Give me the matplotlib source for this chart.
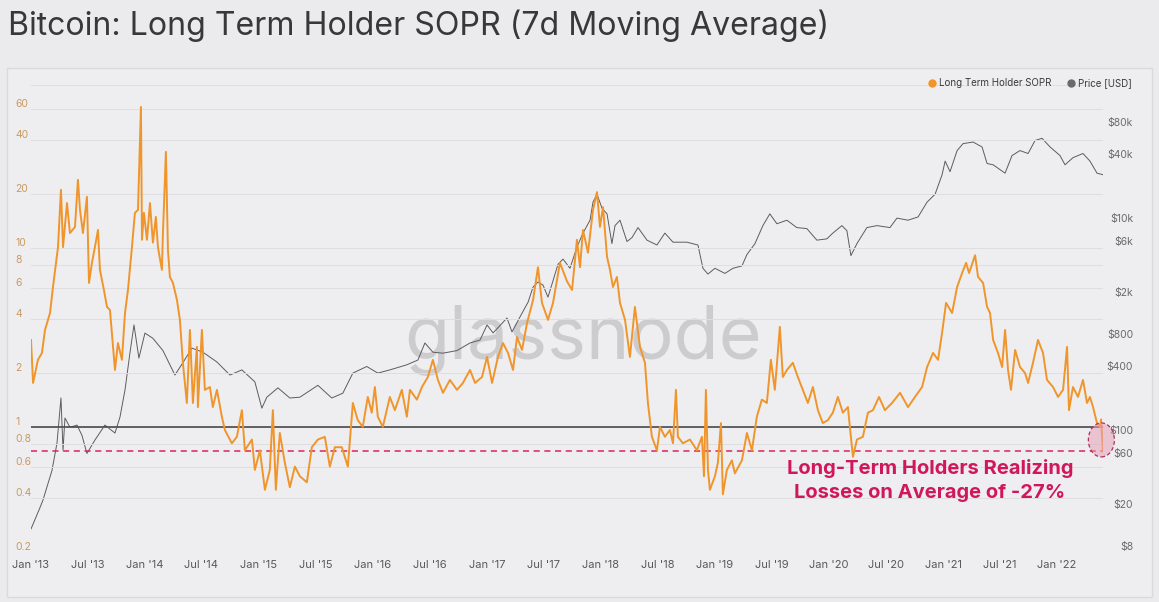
import matplotlib
matplotlib.use("Agg")
import matplotlib.pyplot as plt
import matplotlib.dates as mdates
from matplotlib.patches import Ellipse, FancyBboxPatch
from matplotlib.lines import Line2D
import pandas as pd
import numpy as np

plt.rcParams['font.family'] = ['Inter', 'DejaVu Sans']

# ---------------- data ----------------
# dates as decimal years
sopr_t = [2013.000, 2013.018, 2013.061, 2013.096, 2013.123, 2013.167, 2013.193, 2013.237, 2013.263, 2013.281,
          2013.316, 2013.342, 2013.386, 2013.412, 2013.430, 2013.456, 2013.491, 2013.509, 2013.535, 2013.561,
          2013.588, 2013.605, 2013.640, 2013.667, 2013.693, 2013.737, 2013.763, 2013.798, 2013.825, 2013.851,
          2013.886, 2013.912, 2013.939, 2013.965, 2013.974, 2013.991, 2014.018, 2014.044, 2014.070, 2014.096,
          2014.114, 2014.149, 2014.158, 2014.184, 2014.202, 2014.219, 2014.246, 2014.281, 2014.307, 2014.333,
          2014.368, 2014.395, 2014.421, 2014.456, 2014.465, 2014.500, 2014.526, 2014.570, 2014.596, 2014.632,
          2014.675, 2014.702, 2014.763, 2014.807, 2014.851, 2014.877, 2014.939, 2014.965, 2015.009, 2015.053,
          2015.096, 2015.123, 2015.149, 2015.184, 2015.228, 2015.272, 2015.316, 2015.360, 2015.421, 2015.465,
          2015.518, 2015.579, 2015.623, 2015.667, 2015.728, 2015.781, 2015.825, 2015.868, 2015.912, 2015.956,
          2015.991, 2016.018, 2016.044, 2016.088, 2016.149, 2016.193, 2016.254, 2016.298, 2016.325, 2016.386,
          2016.430, 2016.482, 2016.526, 2016.570, 2016.614, 2016.675, 2016.737, 2016.789, 2016.851, 2016.895,
          2016.956, 2017.000, 2017.044, 2017.096, 2017.140, 2017.184, 2017.228, 2017.263, 2017.307, 2017.351,
          2017.404, 2017.447, 2017.482, 2017.535, 2017.579, 2017.640, 2017.702, 2017.746, 2017.789, 2017.816,
          2017.842, 2017.886, 2017.930, 2017.965, 2017.991, 2018.018, 2018.053, 2018.079, 2018.105, 2018.140,
          2018.167, 2018.211, 2018.254, 2018.298, 2018.342, 2018.386, 2018.412, 2018.447, 2018.491, 2018.518,
          2018.561, 2018.605, 2018.632, 2018.658, 2018.675, 2018.719, 2018.781, 2018.842, 2018.886, 2018.904,
          2018.921, 2018.939, 2018.956, 2019.000, 2019.026, 2019.053, 2019.070, 2019.105, 2019.149, 2019.175,
          2019.237, 2019.281, 2019.325, 2019.368, 2019.412, 2019.456, 2019.491, 2019.526, 2019.570, 2019.596,
          2019.632, 2019.684, 2019.728, 2019.772, 2019.816, 2019.860, 2019.904, 2019.947, 2019.991, 2020.035,
          2020.079, 2020.123, 2020.167, 2020.184, 2020.211, 2020.246, 2020.298, 2020.342, 2020.386, 2020.439,
          2020.491, 2020.553, 2020.623, 2020.693, 2020.754, 2020.816, 2020.860, 2020.912, 2020.956, 2020.991,
          2021.026, 2021.079, 2021.123, 2021.167, 2021.202, 2021.228, 2021.281, 2021.307, 2021.351, 2021.386,
          2021.412, 2021.439, 2021.482, 2021.518, 2021.544, 2021.570, 2021.596, 2021.632, 2021.675, 2021.719,
          2021.746, 2021.789, 2021.833, 2021.877, 2021.912, 2021.965, 2022.009, 2022.053, 2022.088, 2022.105,
          2022.140, 2022.184, 2022.228, 2022.263, 2022.289, 2022.316, 2022.351, 2022.377, 2022.386, 2022.404]
sopr_v = [3.06, 1.76, 2.37, 2.59, 3.48, 4.33, 6.05, 10.1, 21.1, 10.1,
          17.8, 12.1, 13.1, 24.0, 16.3, 12.1, 19.3, 6.37, 8.25, 10.1,
          12.6, 7.54, 5.82, 4.68, 4.5, 2.08, 2.94, 2.37, 4.33, 5.82,
          10.1, 15.7, 16.3, 61.3, 11.1, 15.7, 11.1, 17.8, 10.7, 14.9,
          10.1, 7.54, 12.1, 34.4, 9.73, 6.88, 6.37, 5.12, 3.96, 2.28,
          1.36, 3.48, 1.36, 2.80, 1.29, 3.48, 1.61, 1.67, 1.29, 1.61,
          1.14, 0.96, 0.81, 0.88, 1.24, 0.74, 0.85, 0.575, 0.74, 0.445,
          0.575, 1.24, 0.445, 0.925, 0.63, 0.46, 0.60, 0.53, 0.49, 0.77,
          0.85, 0.88, 0.60, 0.77, 0.77, 0.60, 1.36, 1.09, 1.0, 1.47,
          1.2, 1.67, 1.14, 1.0, 1.47, 1.24, 1.61, 1.14, 1.61, 1.42,
          1.67, 1.90, 2.37, 1.83, 1.55, 1.83, 1.61, 1.76, 2.08, 1.76,
          1.90, 2.46, 1.76, 2.46, 2.94, 2.59, 2.08, 3.18, 2.69, 3.81,
          5.12, 7.8, 4.93, 3.96, 4.93, 8.25, 6.5, 5.82, 11.1, 7.8,
          12.6, 9.4, 16.3, 20.5, 13.1, 16.9, 8.92, 7.54, 6.05, 6.88,
          4.93, 3.96, 2.46, 4.68, 2.80, 2.28, 1.36, 0.88, 0.74, 1.0,
          0.88, 0.96, 0.81, 1.61, 0.88, 0.81, 0.85, 0.74, 0.88, 0.53,
          1.61, 0.575, 0.445, 0.53, 0.63, 1.05, 0.42, 0.575, 0.65, 0.55,
          0.65, 0.925, 0.74, 1.14, 1.42, 1.36, 2.37, 1.61, 3.62, 1.90,
          2.08, 2.28, 1.90, 1.61, 1.36, 1.67, 1.24, 1.05, 1.09, 1.2,
          1.47, 1.2, 1.29, 1.0, 0.68, 0.85, 0.88, 1.2, 1.24, 1.47,
          1.24, 1.36, 1.55, 1.29, 1.47, 1.67, 2.16, 2.59, 2.37, 3.35,
          4.93, 4.33, 6.05, 7.24, 8.25, 7.24, 9.1, 6.88, 6.37, 4.68,
          4.33, 3.06, 2.59, 2.16, 3.48, 2.08, 1.61, 2.69, 2.16, 2.0,
          1.76, 2.28, 3.06, 2.59, 1.83, 1.67, 1.47, 1.61, 2.80, 1.24,
          1.67, 1.47, 1.83, 1.36, 1.47, 1.29, 1.05, 1.0, 1.1, 0.73]

price_t = [2013.000, 2013.079, 2013.105, 2013.184, 2013.228, 2013.263, 2013.281, 2013.298, 2013.342, 2013.404,
           2013.447, 2013.491, 2013.561, 2013.649, 2013.737, 2013.781, 2013.825, 2013.868, 2013.904, 2013.947,
           2014.000, 2014.070, 2014.158, 2014.263, 2014.333, 2014.412, 2014.509, 2014.632, 2014.746, 2014.851,
           2014.965, 2015.026, 2015.070, 2015.167, 2015.272, 2015.360, 2015.518, 2015.640, 2015.737, 2015.825,
           2015.947, 2016.044, 2016.149, 2016.298, 2016.395, 2016.456, 2016.526, 2016.614, 2016.737, 2016.851,
           2016.939, 2017.000, 2017.053, 2017.175, 2017.219, 2017.289, 2017.360, 2017.404, 2017.447, 2017.491,
           2017.535, 2017.623, 2017.667, 2017.728, 2017.789, 2017.842, 2017.904, 2017.930, 2017.965, 2018.009,
           2018.053, 2018.096, 2018.123, 2018.167, 2018.228, 2018.272, 2018.325, 2018.404, 2018.491, 2018.561,
           2018.632, 2018.754, 2018.851, 2018.895, 2018.939, 2019.000, 2019.088, 2019.158, 2019.237, 2019.281,
           2019.351, 2019.421, 2019.482, 2019.544, 2019.632, 2019.719, 2019.807, 2019.895, 2019.982, 2020.035,
           2020.114, 2020.158, 2020.193, 2020.246, 2020.333, 2020.421, 2020.535, 2020.596, 2020.693, 2020.781,
           2020.860, 2020.930, 2020.991, 2021.018, 2021.061, 2021.123, 2021.175, 2021.263, 2021.342, 2021.386,
           2021.439, 2021.544, 2021.605, 2021.675, 2021.746, 2021.807, 2021.868, 2021.939, 2022.026, 2022.070,
           2022.140, 2022.228, 2022.289, 2022.351, 2022.404]
price_v = [13.2, 21, 24.7, 47, 85, 227, 73, 147, 120, 126,
           101, 68, 91, 126, 106, 150, 270, 600, 1110, 540,
           930, 830, 636, 374, 488, 671, 614, 496, 374, 418,
           322, 182, 231, 283, 227, 231, 299, 227, 252, 390,
           450, 390, 418, 467, 518, 750, 614, 601, 636, 750,
           800, 1110, 933, 1290, 953, 1320, 1820, 2530, 2820, 2640,
           2030, 4150, 4640, 3800, 6020, 8160, 10800, 16000, 19000, 14000,
           12400, 6500, 9600, 10800, 6800, 7400, 9200, 7000, 6300, 8160,
           6700, 6700, 6300, 3800, 3350, 3800, 3400, 3800, 4000, 5120,
           6480, 9600, 12400, 10000, 10800, 9200, 9000, 7000, 7200, 8160,
           9600, 8600, 5000, 6500, 9200, 9600, 9200, 11300, 10800, 11600,
           16000, 19000, 29000, 39000, 31000, 49000, 57000, 59000, 53000, 37000,
           36000, 30000, 44000, 49000, 46000, 61000, 64000, 53000, 44000, 36000,
           42000, 46000, 39000, 30000, 29000]

loss_level = 0.73
sopr_ticks = [0.2, 0.4, 0.6, 0.8, 1, 2, 4, 6, 8, 10, 20, 40, 60]
sopr_tick_labels = ['0.2', '0.4', '0.6', '0.8', '1', '2', '4', '6', '8', '10', '20', '40', '60']
price_ticks = [8, 20, 60, 100, 400, 800, 2000, 6000, 10000, 40000, 80000]
price_tick_labels = ['$8', '$20', '$60', '$100', '$400', '$800', '$2k', '$6k', '$10k', '$40k', '$80k']


def dec_to_dt(y):
    yr = int(np.floor(y))
    s = pd.Timestamp(yr, 1, 1)
    e = pd.Timestamp(yr + 1, 1, 1)
    return s + (e - s) * (y - yr)


sopr_dates = [dec_to_dt(t) for t in sopr_t]
price_dates = [dec_to_dt(t) for t in price_t]

# ---------------- figure ----------------
W, H = 1159, 602
fig = plt.figure(figsize=(W / 100, H / 100), dpi=100)
fig.patch.set_facecolor('#ebebed')

panel = FancyBboxPatch((7 / W, 1 - 597 / H), (1152 - 7) / W, (597 - 68) / H,
                       boxstyle='square,pad=0', transform=fig.transFigure,
                       facecolor='#eeeef0', edgecolor='#dadadc', linewidth=1.0, zorder=-5)
fig.patches.append(panel)

fig.text(8 / W, 1 - 35 / H, 'Bitcoin: Long Term Holder SOPR (7d Moving Average)',
         fontsize=23.1, color='#38383a', ha='left', va='baseline')

left_px, right_px, top_px, bot_px = 31, 1103, 85, 552
ax = fig.add_axes([left_px / W, 1 - bot_px / H, (right_px - left_px) / W, (bot_px - top_px) / H])
ax2 = ax.twinx()
ax2.set_zorder(1)
ax.set_zorder(2)
ax.patch.set_visible(False)
ax2.patch.set_visible(False)

# watermark
ax2.text(0.515, 0.455, 'glassnode', transform=ax2.transAxes, fontsize=53, color='#c6c6c8',
         ha='center', va='center', zorder=0, alpha=0.85)

ax2.plot(price_dates, price_v, color='#5c5c5e', lw=0.7, zorder=2)
ax2.set_yscale('log')
ax2.set_ylim(8, 203700)

ax.plot(sopr_dates, sopr_v, color='#F0952B', lw=1.4, zorder=3, solid_joinstyle='round')
ax.set_yscale('log')
ax.set_ylim(0.2, 81.3)
ax.axhline(1, color='#3c3c3e', lw=1.1, zorder=2.5)
ax.axhline(loss_level, color='#d8245a', lw=1.1, ls=(0, (4, 3)), zorder=2.5)

ax.set_xlim(dec_to_dt(2013.0), dec_to_dt(2013 + (right_px - left_px) / 114))

# grid
for v in sopr_ticks:
    ax.axhline(v, color='#dedee0', lw=0.7, zorder=1)
ax.axhline(81.3, color='#dedee0', lw=0.7, zorder=1)

for a in (ax, ax2):
    for s in a.spines.values():
        s.set_visible(False)

ax.yaxis.set_minor_locator(matplotlib.ticker.NullLocator())
ax2.yaxis.set_minor_locator(matplotlib.ticker.NullLocator())
ax.set_yticks(sopr_ticks)
ax.set_yticklabels(sopr_tick_labels)
ax.tick_params(axis='y', length=0, pad=11.5, labelsize=7.5, labelcolor='#c99a62')
for lab in ax.get_yticklabels():
    lab.set_ha('left')
    lab.set_va('bottom')

ax2.set_yticks(price_ticks)
ax2.set_yticklabels(price_tick_labels)
ax2.tick_params(axis='y', length=0, pad=21.6, labelsize=7.5, labelcolor='#6a6a6c')
for lab in ax2.get_yticklabels():
    lab.set_ha('right')
    lab.set_va('bottom')

ax.xaxis.set_major_locator(mdates.MonthLocator(bymonth=[1, 7]))
ax.xaxis.set_major_formatter(mdates.DateFormatter("%b '%y"))
ax.tick_params(axis='x', length=0, pad=6, labelsize=8, labelcolor='#58585a')

# legend
fig.lines.append(Line2D([932 / W], [1 - 83 / H], transform=fig.transFigure, marker='o',
                        markersize=5, color='#F0952B', linestyle='none'))
fig.text(939 / W, 1 - 83 / H, 'Long Term Holder SOPR', fontsize=7, color='#3a3a3c',
         ha='left', va='center')
fig.lines.append(Line2D([1071 / W], [1 - 83 / H], transform=fig.transFigure, marker='o',
                        markersize=5, color='#6a6a6c', linestyle='none'))
fig.text(1078 / W, 1 - 83 / H, 'Price [USD]', fontsize=7, color='#3a3a3c',
         ha='left', va='center')

# annotation
fig.text(930 / W, 1 - 469 / H, 'Long-Term Holders Realizing', fontsize=14.5, fontweight='bold',
         color='#d0175a', ha='center', va='center')
fig.text(930 / W, 1 - 493 / H, 'Losses on Average of -27%', fontsize=14.5, fontweight='bold',
         color='#d0175a', ha='center', va='center')

ell = Ellipse((0.9985, 0.240), 0.0243, 0.0728, transform=ax.transAxes, facecolor='#e8a0b8',
              alpha=0.55, edgecolor='none', clip_on=False, zorder=4)
ax.add_patch(ell)
ell2 = Ellipse((0.9985, 0.240), 0.0243, 0.0728, transform=ax.transAxes, facecolor='none',
               edgecolor='#b0305a', lw=0.9, ls=(0, (3, 2)), clip_on=False, zorder=4)
ax.add_patch(ell2)

fig.savefig('out.png', dpi=100, facecolor=fig.get_facecolor())
